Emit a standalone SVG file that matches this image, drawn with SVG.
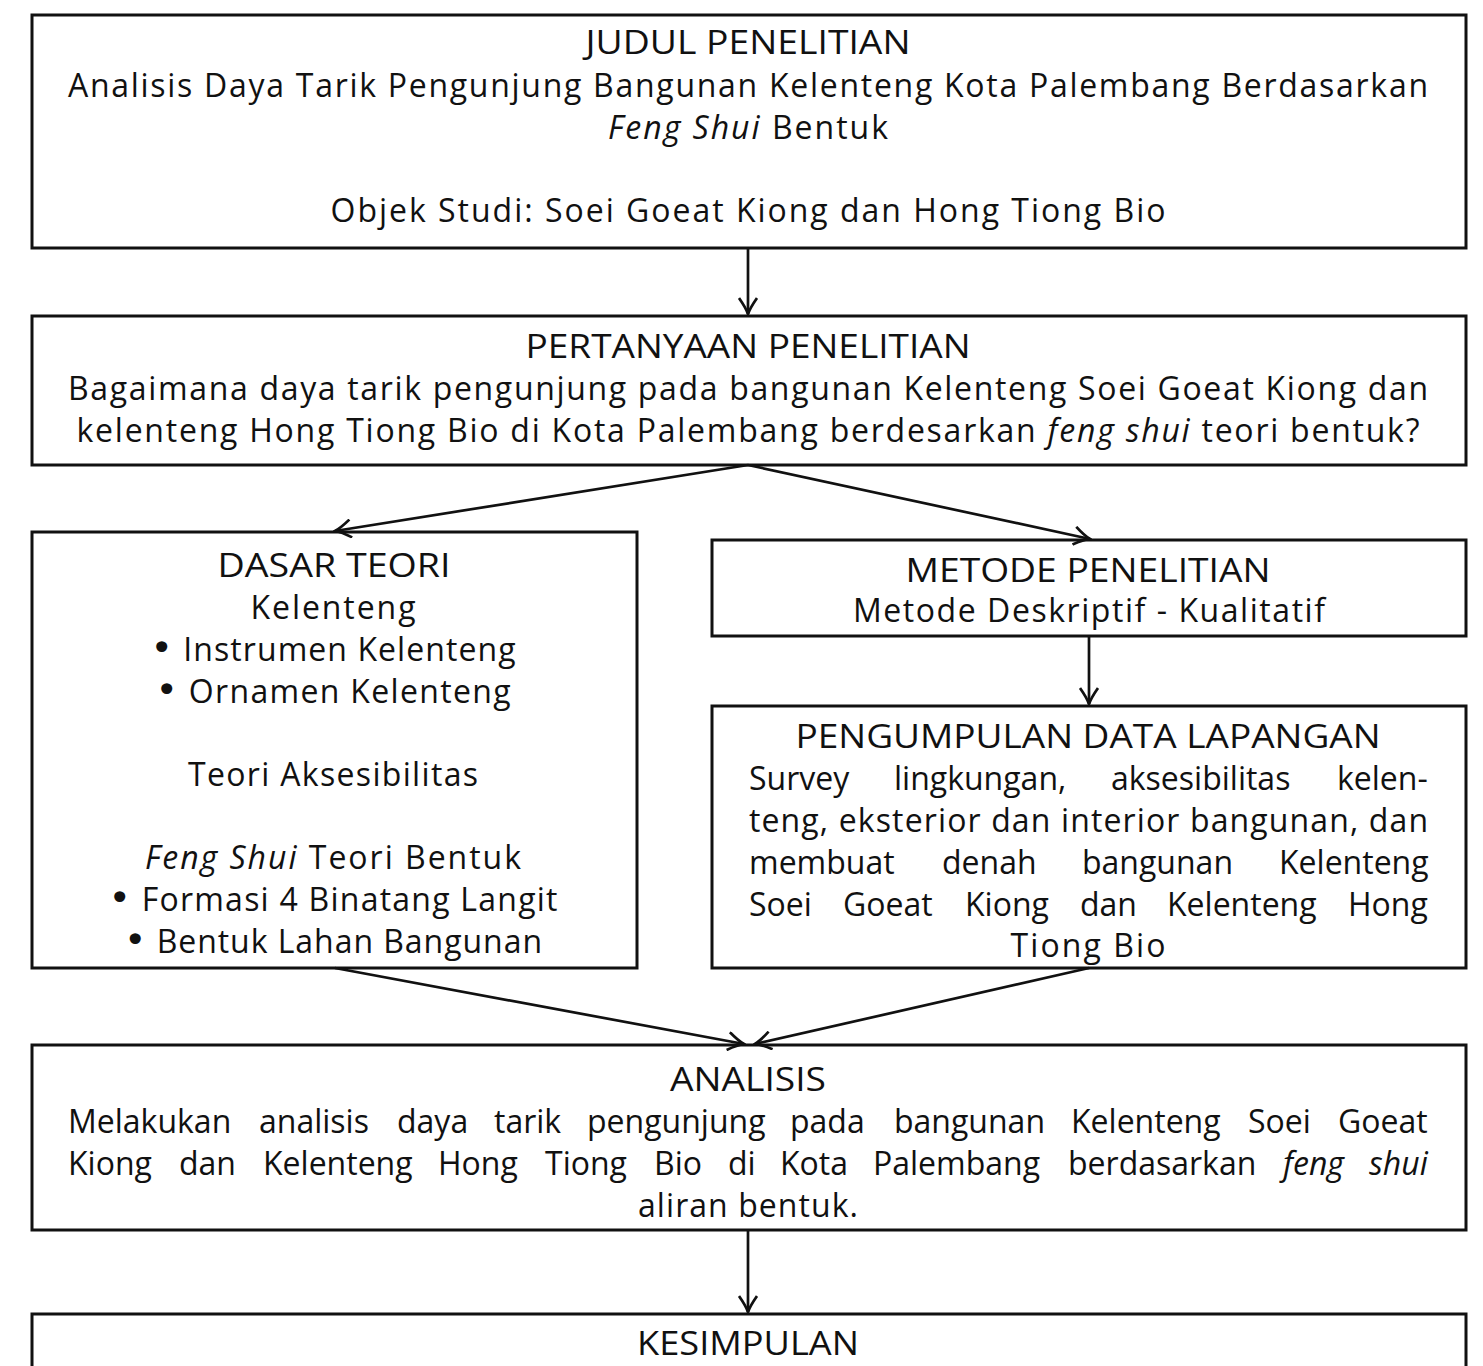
<svg xmlns="http://www.w3.org/2000/svg" width="1483" height="1366" viewBox="0 0 1483 1366">
<defs>
<style>
.box{fill:#fff;stroke:#111;stroke-width:3}
.t{font-family:"Open Sans","Liberation Sans",sans-serif;font-size:32px;fill:#111}
.c{text-anchor:middle}
.i{font-style:italic}
.b{font-family:"DejaVu Sans",sans-serif;font-size:38px}
.con{stroke:#111;stroke-width:2.7;fill:none}
</style>
<marker id="ah" markerUnits="userSpaceOnUse" viewBox="-17 -10 19 20" refX="0" refY="0" markerWidth="19" markerHeight="20" orient="auto">
<path d="M-16,-9 Q-6,-2 0,0 Q-6,2 -16,9" fill="none" stroke="#111" stroke-width="2.7"/>
</marker>
</defs>
<rect width="1483" height="1366" fill="#fff"/>
<g id="judul">
<rect class="box" x="32" y="15" width="1434" height="233"/>
<text class="t c" x="748" y="54" textLength="325" lengthAdjust="spacingAndGlyphs">JUDUL PENELITIAN</text>
<text class="t" x="68" y="97" textLength="1360">Analisis Daya Tarik Pengunjung Bangunan Kelenteng Kota Palembang Berdasarkan</text>
<text class="t c" x="748" y="139" textLength="280"><tspan class="i">Feng Shui</tspan> Bentuk</text>
<text class="t c" x="748" y="222" textLength="835">Objek Studi: Soei Goeat Kiong dan Hong Tiong Bio</text>
</g>
<g id="pertanyaan">
<rect class="box" x="32" y="316" width="1434" height="149"/>
<text class="t c" x="748" y="358" textLength="445" lengthAdjust="spacingAndGlyphs">PERTANYAAN PENELITIAN</text>
<text class="t" x="68" y="400" textLength="1360">Bagaimana daya tarik pengunjung pada bangunan Kelenteng Soei Goeat Kiong dan</text>
<text class="t c" x="748" y="442" textLength="1343">kelenteng Hong Tiong Bio di Kota Palembang berdesarkan <tspan class="i">feng shui</tspan> teori bentuk?</text>
</g>
<g id="dasar-teori">
<rect class="box" x="32" y="532" width="605" height="436"/>
<text class="t c" x="334" y="577" textLength="233" lengthAdjust="spacingAndGlyphs">DASAR TEORI</text>
<text class="t c" x="333" y="619" textLength="165">Kelenteng</text>
<text class="t c" x="333" y="661" textLength="365"><tspan class="b">•</tspan> Instrumen Kelenteng</text>
<text class="t c" x="333" y="703" textLength="355"><tspan class="b">•</tspan> Ornamen Kelenteng</text>
<text class="t c" x="333" y="786" textLength="290">Teori Aksesibilitas</text>
<text class="t c" x="333" y="869" textLength="376"><tspan class="i">Feng Shui</tspan> Teori Bentuk</text>
<text class="t c" x="333" y="911" textLength="449"><tspan class="b">•</tspan> Formasi 4 Binatang Langit</text>
<text class="t c" x="333" y="953" textLength="418"><tspan class="b">•</tspan> Bentuk Lahan Bangunan</text>
</g>
<g id="metode">
<rect class="box" x="712" y="540" width="754" height="96"/>
<text class="t c" x="1088" y="582" textLength="365" lengthAdjust="spacingAndGlyphs">METODE PENELITIAN</text>
<text class="t c" x="1089" y="622" textLength="472">Metode Deskriptif - Kualitatif</text>
</g>
<g id="pengumpulan">
<rect class="box" x="712" y="706" width="754" height="262"/>
<text class="t c" x="1088" y="748" textLength="585" lengthAdjust="spacingAndGlyphs">PENGUMPULAN DATA LAPANGAN</text>
<text class="t" y="790"><tspan x="749">Survey</tspan><tspan x="894">lingkungan,</tspan><tspan x="1111">aksesibilitas</tspan><tspan x="1337">kelen-</tspan></text>
<text class="t" x="749" y="832" textLength="679">teng, eksterior dan interior bangunan, dan</text>
<text class="t" y="874"><tspan x="749">membuat</tspan><tspan x="942">denah</tspan><tspan x="1082">bangunan</tspan><tspan x="1279">Kelenteng</tspan></text>
<text class="t" y="916"><tspan x="749">Soei</tspan><tspan x="843">Goeat</tspan><tspan x="965">Kiong</tspan><tspan x="1080">dan</tspan><tspan x="1167">Kelenteng</tspan><tspan x="1348">Hong</tspan></text>
<text class="t c" x="1088" y="957" textLength="155">Tiong Bio</text>
</g>
<g id="analisis">
<rect class="box" x="32" y="1045" width="1434" height="185"/>
<text class="t c" x="748" y="1091" textLength="156" lengthAdjust="spacingAndGlyphs">ANALISIS</text>
<text class="t" y="1133"><tspan x="68">Melakukan</tspan><tspan x="259">analisis</tspan><tspan x="397">daya</tspan><tspan x="494">tarik</tspan><tspan x="587">pengunjung</tspan><tspan x="790">pada</tspan><tspan x="894">bangunan</tspan><tspan x="1071">Kelenteng</tspan><tspan x="1248">Soei</tspan><tspan x="1338">Goeat</tspan></text>
<text class="t" y="1175"><tspan x="68">Kiong</tspan><tspan x="179">dan</tspan><tspan x="263">Kelenteng</tspan><tspan x="438">Hong</tspan><tspan x="545">Tiong</tspan><tspan x="654">Bio</tspan><tspan x="728">di</tspan><tspan x="780">Kota</tspan><tspan x="873">Palembang</tspan><tspan x="1068">berdasarkan</tspan><tspan x="1283" class="i">feng</tspan><tspan x="1369" class="i">shui</tspan></text>
<text class="t c" x="748" y="1217" textLength="220">aliran bentuk.</text>
</g>
<g id="kesimpulan">
<rect class="box" x="32" y="1314" width="1434" height="70"/>
<text class="t c" x="748" y="1355" textLength="222" lengthAdjust="spacingAndGlyphs">KESIMPULAN</text>
</g>
<g id="connectors">
<line class="con" x1="748" y1="248" x2="748" y2="314" marker-end="url(#ah)"/>
<line class="con" x1="748" y1="465" x2="335" y2="531" marker-end="url(#ah)"/>
<line class="con" x1="748" y1="465" x2="1090" y2="539" marker-end="url(#ah)"/>
<line class="con" x1="1089" y1="636" x2="1089" y2="704" marker-end="url(#ah)"/>
<line class="con" x1="335" y1="968" x2="744" y2="1044" marker-end="url(#ah)"/>
<line class="con" x1="1089" y1="968" x2="755" y2="1044" marker-end="url(#ah)"/>
<line class="con" x1="748" y1="1230" x2="748" y2="1312" marker-end="url(#ah)"/>
</g>
</svg>
